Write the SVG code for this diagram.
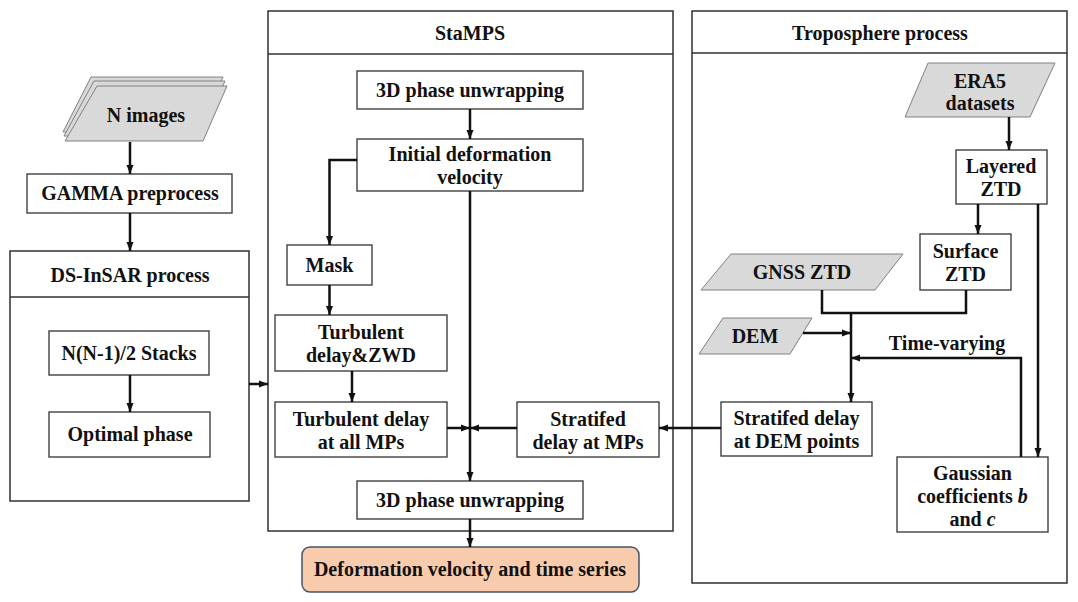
<svg xmlns="http://www.w3.org/2000/svg" width="1078" height="602" viewBox="0 0 1078 602">
<defs>
<style>
.box{fill:#fff;stroke:#404040;stroke-width:1.4}
.cont{fill:#fff;stroke:#303030;stroke-width:1.5}
.para{fill:#d9d9d9;stroke:#808080;stroke-width:1}
.t{font-family:"Liberation Serif","Times New Roman",serif;font-weight:bold;font-size:20px;fill:#111;text-anchor:middle}
.c{fill:none;stroke:#111;stroke-width:2.5}
</style>
<marker id="ah" markerUnits="userSpaceOnUse" markerWidth="10" markerHeight="8" refX="9" refY="4" orient="auto">
<path d="M0,0.5 L9,4 L0,7.5 Z" fill="#111"/>
</marker>
</defs>
<rect width="1078" height="602" fill="#fff"/>

<g id="ds-insar">
<rect class="cont" x="10" y="251" width="239" height="250"/>
<line x1="10" y1="297" x2="249" y2="297" stroke="#303030" stroke-width="1.5"/>
<text class="t" x="130" y="282">DS-InSAR process</text>
</g>
<g id="stamps">
<rect class="cont" x="268" y="11" width="405" height="520"/>
<line x1="268" y1="54" x2="673" y2="54" stroke="#303030" stroke-width="1.5"/>
<text class="t" x="470" y="40">StaMPS</text>
</g>
<g id="troposphere">
<rect class="cont" x="692" y="11" width="375" height="572"/>
<line x1="692" y1="53" x2="1067" y2="53" stroke="#303030" stroke-width="1.5"/>
<text class="t" x="880" y="40">Troposphere process</text>
</g>

<g id="n-images">
<polygon class="para" points="91,77 223,77 197,132 63,132"/>
<polygon class="para" points="94,81 225,81 200,136 64,136"/>
<polygon class="para" points="97,86 227,86 203,141 65,141"/>
<text class="t" x="146" y="122">N images</text>
</g>
<g id="gamma">
<rect class="box" x="27" y="174" width="205" height="39"/>
<text class="t" x="130" y="200">GAMMA preprocess</text>
</g>
<g id="stacks">
<rect class="box" x="49" y="331" width="160" height="44"/>
<text class="t" x="129" y="360">N(N-1)/2 Stacks</text>
</g>
<g id="optimal">
<rect class="box" x="49" y="412" width="161" height="45"/>
<text class="t" x="130" y="441">Optimal phase</text>
</g>

<g id="unwrap1">
<rect class="box" x="357" y="71" width="226" height="38"/>
<text class="t" x="470" y="97">3D phase unwrapping</text>
</g>
<g id="initial">
<rect class="box" x="357" y="139" width="226" height="52"/>
<text class="t" x="470" y="161">Initial deformation</text>
<text class="t" x="470" y="184">velocity</text>
</g>
<g id="mask">
<rect class="box" x="287" y="245" width="85" height="40"/>
<text class="t" x="329.5" y="272">Mask</text>
</g>
<g id="turb-zwd">
<rect class="box" x="275" y="315" width="172" height="56"/>
<text class="t" x="361" y="339">Turbulent</text>
<text class="t" x="361" y="362">delay&amp;ZWD</text>
</g>
<g id="turb-all">
<rect class="box" x="275" y="402" width="172" height="55"/>
<text class="t" x="361" y="426">Turbulent delay</text>
<text class="t" x="361" y="449">at all MPs</text>
</g>
<g id="strat-mps">
<rect class="box" x="517" y="402" width="142" height="55"/>
<text class="t" x="588" y="426">Stratifed</text>
<text class="t" x="588" y="449">delay at MPs</text>
</g>
<g id="unwrap2">
<rect class="box" x="357" y="481" width="226" height="38"/>
<text class="t" x="470" y="507">3D phase unwrapping</text>
</g>
<g id="result">
<rect x="302" y="547" width="337" height="45" rx="8" fill="#f8cbad" stroke="#44546a" stroke-width="1.5"/>
<text class="t" x="470" y="576">Deformation velocity and time series</text>
</g>

<g id="era5">
<polygon class="para" points="928,63 1055,63 1030,117 905,117"/>
<text class="t" x="980" y="88">ERA5</text>
<text class="t" x="980" y="110">datasets</text>
</g>
<g id="layered">
<rect class="box" x="956" y="150" width="91" height="54"/>
<text class="t" x="1001" y="173">Layered</text>
<text class="t" x="1001" y="196">ZTD</text>
</g>
<g id="surface">
<rect class="box" x="920" y="234" width="91" height="56"/>
<text class="t" x="965.5" y="258">Surface</text>
<text class="t" x="965.5" y="281">ZTD</text>
</g>
<g id="gnss">
<polygon class="para" points="731,254 903,254 875,290 701,290"/>
<text class="t" x="802" y="279">GNSS ZTD</text>
</g>
<g id="dem">
<polygon class="para" points="723,318 812,318 790,354 699,354"/>
<text class="t" x="755" y="343">DEM</text>
</g>
<g id="strat-dem">
<rect class="box" x="721" y="402" width="151" height="54"/>
<text class="t" x="796.5" y="425">Stratifed delay</text>
<text class="t" x="796.5" y="448">at DEM points</text>
</g>
<g id="gaussian">
<rect class="box" x="897" y="457" width="151" height="75"/>
<text class="t" x="972.5" y="480">Gaussian</text>
<text class="t" x="972.5" y="503">coefficients <tspan font-style="italic">b</tspan></text>
<text class="t" x="972.5" y="526">and <tspan font-style="italic">c</tspan></text>
</g>
<text class="t" x="947" y="350">Time-varying</text>

<g id="connectors">
<line class="c" x1="130" y1="142" x2="130" y2="174" marker-end="url(#ah)"/>
<line class="c" x1="130" y1="213" x2="130" y2="251" marker-end="url(#ah)"/>
<line class="c" x1="130" y1="375" x2="130" y2="412" marker-end="url(#ah)"/>
<line class="c" x1="249" y1="384" x2="268" y2="384" marker-end="url(#ah)"/>
<line class="c" x1="470" y1="109" x2="470" y2="139" marker-end="url(#ah)"/>
<polyline class="c" points="357,160 329.5,160 329.5,245" marker-end="url(#ah)"/>
<line class="c" x1="329.5" y1="285" x2="329.5" y2="315" marker-end="url(#ah)"/>
<line class="c" x1="352" y1="371" x2="352" y2="402" marker-end="url(#ah)"/>
<line class="c" x1="470" y1="191" x2="470" y2="481" marker-end="url(#ah)"/>
<line class="c" x1="447" y1="428" x2="470" y2="428" marker-end="url(#ah)"/>
<line class="c" x1="517" y1="428" x2="470" y2="428" marker-end="url(#ah)"/>
<line class="c" x1="721" y1="428" x2="659" y2="428" marker-end="url(#ah)"/>
<line class="c" x1="470" y1="519" x2="470" y2="547" marker-end="url(#ah)"/>
<line class="c" x1="1009" y1="117" x2="1009" y2="150" marker-end="url(#ah)"/>
<line class="c" x1="978" y1="204" x2="978" y2="234" marker-end="url(#ah)"/>
<line class="c" x1="1038" y1="204" x2="1038" y2="457" marker-end="url(#ah)"/>
<polyline class="c" points="822,290 822,313 966,313 966,290"/>
<line class="c" x1="851" y1="313" x2="851" y2="402" marker-end="url(#ah)"/>
<line class="c" x1="803" y1="333" x2="851" y2="333" marker-end="url(#ah)"/>
<polyline class="c" points="1021,457 1021,358 851,358" marker-end="url(#ah)"/>
</g>
</svg>
